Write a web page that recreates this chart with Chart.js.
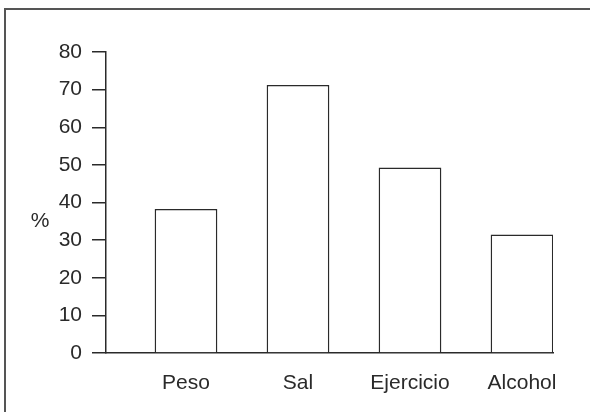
<!DOCTYPE html>
<html>
<head>
<meta charset="utf-8">
<script src="https://cdn.jsdelivr.net/npm/chart.js@4"></script>
<style>
  html, body { margin: 0; background: #fff; overflow: hidden; }
</style>
</head>
<body>
<canvas id="chart" width="590" height="412"></canvas>
<script>
const categories = ["Peso", "Sal", "Ejercicio", "Alcohol"];
const values = [38.3, 71.2, 49.3, 31.5];
const yTicks = [0, 10, 20, 30, 40, 50, 60, 70, 80];
const yTitle = "%";

const ink = "#2a2a2a";
const font = { family: "'Liberation Sans', Arial, sans-serif", size: 21 };

// "%" sits unrotated left of the axis, level with 35; plus the cut-off frame (top and left edges)
const decorations = {
    id: "decorations",
    afterDraw(chart) {
        const ctx = chart.ctx;
        const y = chart.scales.y.getPixelForValue(35);
        ctx.save();
        ctx.fillStyle = ink;
        ctx.font = font.size + "px " + font.family;
        ctx.textAlign = "center";
        ctx.textBaseline = "middle";
        ctx.fillText(yTitle, 40, y);

        ctx.strokeStyle = "#555";
        ctx.lineWidth = 2;
        ctx.beginPath();
        ctx.moveTo(5, chart.height);
        ctx.lineTo(5, 9);
        ctx.lineTo(chart.width, 9);
        ctx.stroke();
        ctx.restore();
    }
};

new Chart(document.getElementById("chart"), {
    type: "bar",
    data: {
        datasets: [{
            data: values.map((v, i) => ({ x: i, y: v })),
            backgroundColor: "#ffffff",
            borderColor: ink,
            borderWidth: 1.5,
            barPercentage: 0.56,
            categoryPercentage: 1
        }]
    },
    options: {
        responsive: false,
        animation: false,
        layout: { padding: { top: 52, right: 37, left: 0, bottom: 0 } },
        plugins: { legend: { display: false }, tooltip: { enabled: false } },
        scales: {
            x: {
                type: "linear",
                offset: false,
                min: -80 / 112,
                max: 3 + 31 / 112,
                afterBuildTicks: s => { s.ticks = categories.map((c, i) => ({ value: i })); },
                afterFit: s => { s.height = 59; },
                grid: { display: false },
                border: { display: true, color: ink, width: 1.5 },
                ticks: {
                    color: ink, font: font, padding: 10,
                    autoSkip: false, maxRotation: 0,
                    callback: v => categories[v]
                }
            },
            y: {
                min: 0,
                max: 80,
                afterBuildTicks: s => { s.ticks = yTicks.map(v => ({ value: v })); },
                afterFit: s => { s.width = 106; },
                grid: { drawOnChartArea: false, drawTicks: true, tickLength: 14, color: ink, lineWidth: 1.5 },
                border: { display: true, color: ink, width: 1.5 },
                ticks: { color: ink, font: font, padding: 10 }
            }
        }
    },
    plugins: [decorations]
});
</script>
</body>
</html>
